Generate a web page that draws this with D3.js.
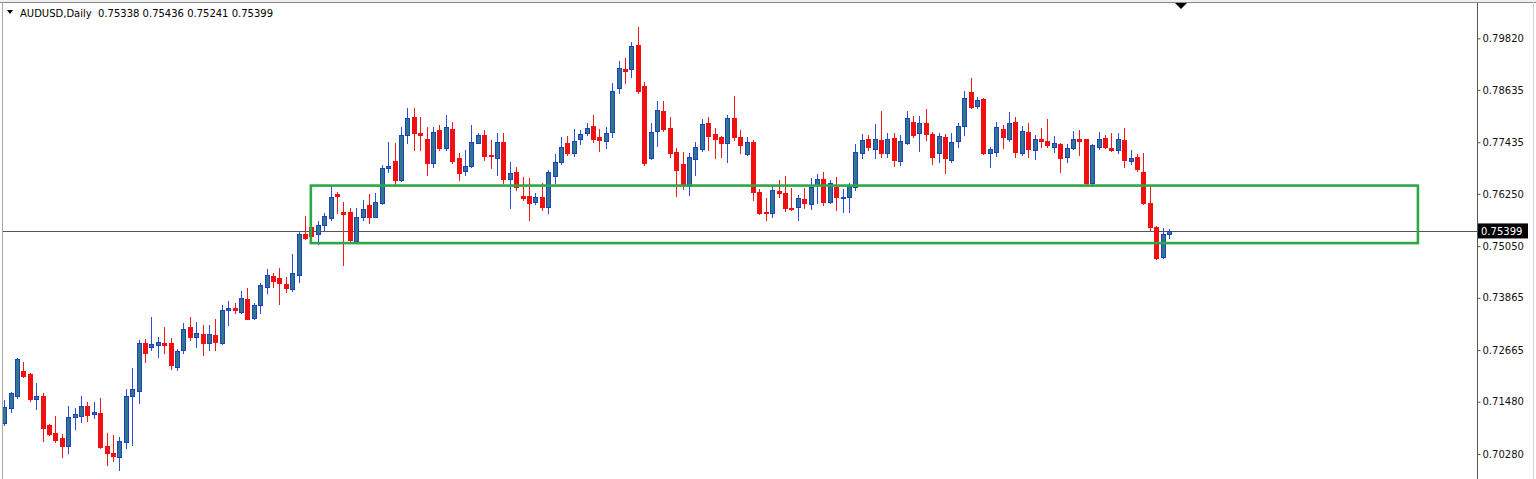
<!DOCTYPE html>
<html><head><meta charset="utf-8">
<script src="https://cdn.jsdelivr.net/npm/d3@7"></script>
<style>body{margin:0;background:#fff}svg{display:block}text{font-family:"DejaVu Sans",sans-serif}</style>
</head><body><script>
const symbol = "AUDUSD";
const timeframe = "Daily";
const opens = [0.7098,0.7134,0.7162,0.7219,0.7211,0.7155,0.7162,0.7094,0.7077,0.7065,0.7046,0.7113,0.7115,0.7138,0.7119,0.7123,0.7046,0.7031,0.7022,0.7055,0.7162,0.7173,0.7282,0.7273,0.7277,0.7283,0.7282,0.7228,0.7267,0.7320,0.7296,0.7303,0.7283,0.7301,0.7283,0.7358,0.7364,0.7355,0.7384,0.7339,0.7370,0.7411,0.7437,0.7431,0.7418,0.7406,0.7439,0.7532,0.7548,0.7532,0.7554,0.7569,0.7624,0.7583,0.7583,0.7517,0.7573,0.7599,0.7573,0.7605,0.7685,0.7700,0.7657,0.7760,0.7802,0.7764,0.7752,0.7695,0.7772,0.7731,0.7774,0.7708,0.7678,0.7690,0.7742,0.7760,0.7714,0.7708,0.7745,0.7658,0.7675,0.7620,0.7620,0.7606,0.7617,0.7594,0.7666,0.7697,0.7741,0.7719,0.7750,0.7764,0.7781,0.7756,0.7747,0.7768,0.7869,0.7911,0.7911,0.7967,0.7872,0.7707,0.7770,0.7816,0.7775,0.7722,0.7693,0.7644,0.7704,0.7728,0.7788,0.7762,0.7755,0.7742,0.7798,0.7756,0.7716,0.7745,0.7630,0.7584,0.7580,0.7631,0.7628,0.7593,0.7594,0.7613,0.7602,0.7645,0.7658,0.7607,0.7641,0.7615,0.7618,0.7641,0.7718,0.7751,0.7727,0.7749,0.7719,0.7754,0.7701,0.7741,0.7791,0.7764,0.7788,0.7762,0.7718,0.7756,0.7703,0.7746,0.7781,0.7859,0.7827,0.7842,0.7718,0.7722,0.7773,0.7752,0.7791,0.7718,0.7768,0.7726,0.7750,0.7747,0.7732,0.7739,0.7709,0.7730,0.7750,0.7750,0.7649,0.7732,0.7754,0.7730,0.7726,0.7749,0.7701,0.7709,0.7676,0.7603,0.7549,0.7481,0.75338];
const highs = [0.7152,0.7171,0.7248,0.7240,0.7213,0.7192,0.7169,0.7097,0.7115,0.7073,0.7138,0.7133,0.7160,0.7147,0.7148,0.7157,0.7077,0.7072,0.7068,0.7177,0.7225,0.7290,0.7292,0.7343,0.7296,0.7320,0.7294,0.7268,0.7329,0.7343,0.7332,0.7324,0.7324,0.7338,0.7370,0.7378,0.7374,0.7403,0.7408,0.7374,0.7421,0.7452,0.7444,0.7454,0.7435,0.7487,0.7540,0.7574,0.7560,0.7563,0.7580,0.7643,0.7630,0.7607,0.7592,0.7592,0.7611,0.7624,0.7626,0.7691,0.7745,0.7741,0.7779,0.7821,0.7821,0.7802,0.7779,0.7779,0.7783,0.7806,0.7791,0.7718,0.7726,0.7783,0.7764,0.7772,0.7749,0.7765,0.7764,0.7699,0.7687,0.7664,0.7661,0.7626,0.7649,0.7680,0.7716,0.7755,0.7758,0.7773,0.7772,0.7788,0.7806,0.7773,0.7779,0.7880,0.7931,0.7936,0.7974,0.8009,0.7882,0.7787,0.7837,0.7839,0.7802,0.7730,0.7722,0.7718,0.7745,0.7796,0.7802,0.7775,0.7758,0.7806,0.7850,0.7772,0.7756,0.7749,0.7636,0.7615,0.7645,0.7657,0.7666,0.7638,0.7622,0.7638,0.7661,0.7671,0.7676,0.7657,0.7663,0.7636,0.7649,0.7740,0.7762,0.7760,0.7785,0.7816,0.7764,0.7765,0.7760,0.7816,0.7804,0.7804,0.7819,0.7768,0.7764,0.7762,0.7764,0.7788,0.7862,0.7892,0.7848,0.7844,0.7732,0.7791,0.7783,0.7814,0.7802,0.7781,0.7787,0.7759,0.7775,0.7796,0.7758,0.7742,0.7740,0.7770,0.7772,0.7752,0.7740,0.7768,0.7760,0.7764,0.7764,0.7775,0.7726,0.7716,0.7718,0.7645,0.7551,0.7546,0.75436];
const lows = [0.7095,0.7125,0.7156,0.7204,0.7150,0.7131,0.7058,0.7072,0.7056,0.7022,0.7031,0.7085,0.7102,0.7104,0.7111,0.7041,0.7003,0.7013,0.6991,0.7041,0.7049,0.7144,0.7240,0.7267,0.7251,0.7260,0.7222,0.7221,0.7260,0.7290,0.7274,0.7255,0.7267,0.7267,0.7280,0.7324,0.7351,0.7351,0.7337,0.7338,0.7351,0.7397,0.7411,0.7372,0.7400,0.7403,0.7423,0.7521,0.7519,0.7509,0.7542,0.7565,0.7582,0.7462,0.7517,0.7513,0.7565,0.7558,0.7571,0.7602,0.7676,0.7647,0.7655,0.7742,0.7726,0.7726,0.7668,0.7687,0.7726,0.7726,0.7695,0.7657,0.7668,0.7687,0.7741,0.7703,0.7684,0.7668,0.7649,0.7592,0.7634,0.7611,0.7565,0.7602,0.7588,0.7582,0.7651,0.7694,0.7714,0.7712,0.7739,0.7760,0.7745,0.7724,0.7731,0.7756,0.7857,0.7879,0.7894,0.7857,0.7691,0.7704,0.7735,0.7770,0.7709,0.7620,0.7636,0.7622,0.7668,0.7724,0.7726,0.7707,0.7710,0.7699,0.7749,0.7718,0.7714,0.7611,0.7579,0.7565,0.7573,0.7618,0.7586,0.7588,0.7565,0.7592,0.7590,0.7605,0.7599,0.7603,0.7588,0.7584,0.7584,0.7634,0.7707,0.7726,0.7707,0.7709,0.7709,0.7690,0.7691,0.7740,0.7756,0.7724,0.7749,0.7694,0.7699,0.7674,0.7699,0.7733,0.7760,0.7823,0.7823,0.7716,0.7687,0.7712,0.7730,0.7747,0.7709,0.7714,0.7709,0.7704,0.7732,0.7732,0.7722,0.7676,0.7699,0.7727,0.7714,0.7647,0.7647,0.7727,0.7730,0.7724,0.7718,0.7687,0.7694,0.7678,0.7602,0.7542,0.7475,0.7477,0.75241];
const closes = [0.7137,0.7169,0.7246,0.7207,0.7154,0.7161,0.7088,0.7074,0.7059,0.7046,0.7114,0.7119,0.7138,0.7118,0.7125,0.7045,0.7031,0.7024,0.7058,0.7161,0.7178,0.7282,0.7260,0.7280,0.7285,0.7279,0.7232,0.7265,0.7316,0.7297,0.7305,0.7282,0.7303,0.7286,0.7359,0.7364,0.7358,0.7385,0.7338,0.7370,0.7416,0.7439,0.7425,0.7420,0.7408,0.7443,0.7534,0.7523,0.7528,0.7554,0.7574,0.7618,0.7619,0.7579,0.7519,0.7571,0.7591,0.7573,0.7606,0.7684,0.7690,0.7657,0.7760,0.7798,0.7764,0.7761,0.7695,0.7768,0.7730,0.7779,0.7700,0.7674,0.7690,0.7745,0.7759,0.7712,0.7712,0.7745,0.7658,0.7674,0.7640,0.7615,0.7605,0.7618,0.7595,0.7676,0.7697,0.7733,0.7719,0.7747,0.7762,0.7777,0.7751,0.7749,0.7764,0.7862,0.7913,0.7908,0.7964,0.7861,0.7695,0.7768,0.7818,0.7773,0.7718,0.7680,0.7645,0.7710,0.7733,0.7785,0.7758,0.7751,0.7742,0.7798,0.7755,0.7737,0.7745,0.7630,0.7582,0.7580,0.7634,0.7626,0.7592,0.7590,0.7615,0.7605,0.7641,0.7658,0.7607,0.7649,0.7618,0.7618,0.7643,0.7722,0.7749,0.7732,0.7751,0.7718,0.7751,0.7703,0.7746,0.7798,0.7760,0.7788,0.7762,0.7709,0.7758,0.7707,0.7745,0.7781,0.7844,0.7825,0.7840,0.7718,0.7727,0.7778,0.7756,0.7787,0.7722,0.7769,0.7727,0.7750,0.7746,0.7737,0.7741,0.7707,0.7730,0.7750,0.7747,0.7649,0.7737,0.7750,0.7733,0.7726,0.7750,0.7703,0.7707,0.7681,0.7603,0.7548,0.7477,0.7534,0.75399];
const priceTicks = [0.79820,0.78635,0.77435,0.76250,0.75050,0.73865,0.72665,0.71480,0.70280];
const zoneBars = [47.9, 220.9];
const zonePrices = [0.7644, 0.7512];

const W = 1536, H = 479;
const svg = d3.select("body").append("svg").attr("width", W).attr("height", H);
svg.append("rect").attr("width", W).attr("height", H).attr("fill", "#fff");

const n = opens.length;
const x = d3.scaleLinear().domain([0, n - 1]).range([4.3, 1169]);
const y = d3.scaleLinear().domain([0.70280, 0.79820]).range([454, 38.3]);

svg.append("defs").append("clipPath").attr("id", "clip")
  .append("rect").attr("x", 3).attr("y", 3).attr("width", 1474).attr("height", 476);

// frame
svg.append("rect").attr("x", 0).attr("y", 0).attr("width", W).attr("height", 2).attr("fill", "#efefef");
svg.append("line").attr("x1", 0).attr("x2", W).attr("y1", 2.5).attr("y2", 2.5).attr("stroke", "#8a8a8a");
svg.append("line").attr("x1", 2.5).attr("x2", 2.5).attr("y1", 2).attr("y2", H).attr("stroke", "#a8a8a8");
svg.append("line").attr("x1", 1533.5).attr("x2", 1533.5).attr("y1", 2).attr("y2", H).attr("stroke", "#d4d4d4");

const plot = svg.append("g").attr("clip-path", "url(#clip)");

// current price line
const last = closes[n - 1];
plot.append("line").attr("x1", 3).attr("x2", 1477)
  .attr("y1", Math.round(y(last)) + 0.5).attr("y2", Math.round(y(last)) + 0.5)
  .attr("stroke", "#555").attr("stroke-width", 1);

const data = d3.range(n).map(i => ({i, o: opens[i], h: highs[i], l: lows[i], c: closes[i]}));
const cg = plot.selectAll("g.c").data(data).join("g").attr("class", "c");
cg.append("line")
  .attr("x1", d => Math.round(x(d.i)) + 0.5).attr("x2", d => Math.round(x(d.i)) + 0.5)
  .attr("y1", d => Math.round(y(d.h))).attr("y2", d => Math.round(y(d.l)) + 1)
  .attr("stroke", d => d.c >= d.o ? "#2a4fd0" : "#f01818").attr("stroke-width", 1);
cg.append("rect")
  .attr("x", d => Math.round(x(d.i)) - 1.5)
  .attr("y", d => Math.round(y(Math.max(d.o, d.c))) + 0.5)
  .attr("width", 4)
  .attr("height", d => Math.max(1, Math.round(y(Math.min(d.o, d.c))) - Math.round(y(Math.max(d.o, d.c)))))
  .attr("fill", d => d.c >= d.o ? "#2f7886" : "#f01010")
  .attr("stroke", d => d.c >= d.o ? "#1d3fc8" : "#f01010")
  .attr("stroke-width", 1);

// zone rectangle
plot.append("rect")
  .attr("x", x(zoneBars[0])).attr("y", y(zonePrices[0]))
  .attr("width", x(zoneBars[1]) - x(zoneBars[0]))
  .attr("height", y(zonePrices[1]) - y(zonePrices[0]))
  .attr("fill", "none").attr("stroke", "#2ea844").attr("stroke-width", 2.6);

// price axis
const axis = d3.axisRight(y).tickValues(priceTicks).tickFormat(d3.format(".5f")).tickSize(3).tickPadding(2);
const ag = svg.append("g").attr("transform", "translate(1477.5,0)").call(axis);
ag.select(".domain").attr("d", "M0,3V479").attr("stroke", "#555");
ag.selectAll(".tick line").attr("stroke", "#555");
ag.selectAll(".tick text").attr("font-size", 10).attr("fill", "#111").attr("font-family", "DejaVu Sans, sans-serif");

// current price label
const ly = y(last);
svg.append("rect").attr("x", 1478).attr("y", ly - 7.5).attr("width", 50).attr("height", 15).attr("fill", "#000");
svg.append("text").attr("x", 1481).attr("y", ly + 3.8).attr("font-size", 10).attr("fill", "#fff").text(d3.format(".5f")(last));

// chart shift marker
svg.append("path").attr("d", "M1175,3L1187,3L1181,9Z").attr("fill", "#000");

// title
svg.append("path").attr("d", "M7,10L13,10L10,14Z").attr("fill", "#000");
const f5 = d3.format(".5f");
svg.append("text").attr("x", 20).attr("y", 17).attr("font-size", 10).attr("fill", "#000")
  .style("white-space", "pre")
  .text(`${symbol},${timeframe}  ${f5(opens[n-1])} ${f5(highs[n-1])} ${f5(lows[n-1])} ${f5(closes[n-1])}`);
</script></body></html>
